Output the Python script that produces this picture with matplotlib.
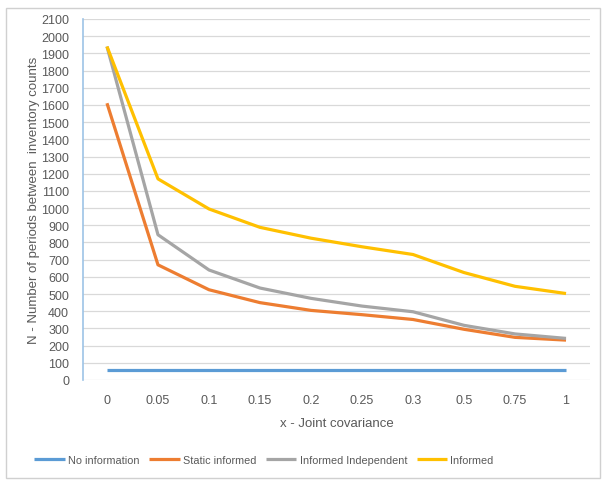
import matplotlib.pyplot as plt
from matplotlib.patches import Rectangle

categories = ["0", "0.05", "0.1", "0.15", "0.2", "0.25", "0.3", "0.5", "0.75", "1"]
no_information = [60, 60, 60, 60, 60, 60, 60, 60, 60, 60]
static_informed = [1610, 670, 525, 450, 405, 380, 352, 295, 248, 232]
informed_independent = [1940, 845, 640, 535, 475, 430, 397, 318, 268, 242]
informed = [1940, 1170, 995, 888, 825, 775, 730, 625, 545, 503]

series = [
    ("No information", no_information, "#5b9bd5"),
    ("Static informed", static_informed, "#ed7d31"),
    ("Informed Independent", informed_independent, "#a5a5a5"),
    ("Informed", informed, "#ffc000"),
]

text_color = "#595959"
plt.rcParams["font.family"] = ["Liberation Sans", "DejaVu Sans"]

fig = plt.figure(figsize=(6.06, 4.85), dpi=100)
fig.patches.append(Rectangle((6 / 606, 6 / 485), 594 / 606, 470 / 485,
                             transform=fig.transFigure, fill=False,
                             edgecolor="#d0d0d0", linewidth=1.0))

ax = fig.add_axes([83 / 606, 1 - 381 / 485, 507 / 606, 361 / 485])
x = list(range(len(categories)))
for name, vals, color in series:
    ax.plot(x, vals, color=color, linewidth=2.3, label=name,
            solid_capstyle="butt", zorder=3)

ax.set_xlim(-0.47, len(categories) - 0.53)
ax.set_ylim(0, 2100)
ax.set_yticks(range(0, 2101, 100))
ax.set_xticks(x)
ax.set_xticklabels(categories)
ax.yaxis.grid(True, color="#d9d9d9", linewidth=0.9, zorder=0)
ax.set_axisbelow(True)

for side in ["top", "right", "bottom"]:
    ax.spines[side].set_visible(False)
ax.spines["left"].set_color("#9dc3e6")
ax.spines["left"].set_linewidth(1.2)

ax.tick_params(axis="both", length=0, labelsize=9, labelcolor=text_color)
ax.tick_params(axis="x", pad=10)
ax.tick_params(axis="y", pad=10)

ax.set_xlabel("x - Joint covariance", fontsize=9.5, color=text_color, labelpad=8)
ax.set_ylabel("N - Number of periods between  inventory counts", fontsize=9.5,
              color=text_color, labelpad=1)

fig.legend(loc="center", bbox_to_anchor=(264 / 606, 1 - 461 / 485), ncol=4,
           frameon=False, fontsize=7.8, handlelength=2.8, handletextpad=0.3,
           columnspacing=0.9, labelcolor=text_color)

fig.savefig("out.png", dpi=100)
